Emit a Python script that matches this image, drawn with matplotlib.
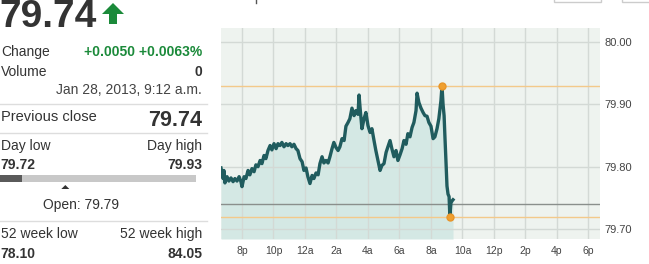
import numpy as np
import pandas as pd
import matplotlib
matplotlib.use("Agg")
import matplotlib.pyplot as plt
import matplotlib.dates as mdates
from matplotlib.patches import Polygon, Rectangle

plt.rcParams['font.family'] = ['Liberation Sans', 'DejaVu Sans']

# intraday quotes, Jan 27 evening -> Jan 28 morning
times = [
    "01-27 18:40", "01-27 18:44", "01-27 18:48", "01-27 18:51", "01-27 18:55", "01-27 19:03",
    "01-27 19:10", "01-27 19:18", "01-27 19:26", "01-27 19:33", "01-27 19:41", "01-27 19:49",
    "01-27 19:56", "01-27 20:00", "01-27 20:08", "01-27 20:15", "01-27 20:23", "01-27 20:30",
    "01-27 20:38", "01-27 20:46", "01-27 20:53", "01-27 21:01", "01-27 21:09", "01-27 21:16",
    "01-27 21:24", "01-27 21:31", "01-27 21:39", "01-27 21:47", "01-27 21:54", "01-27 22:02",
    "01-27 22:10", "01-27 22:17", "01-27 22:25", "01-27 22:32", "01-27 22:40", "01-27 22:48",
    "01-27 22:55", "01-27 23:03", "01-27 23:10", "01-27 23:18", "01-27 23:26", "01-27 23:33",
    "01-27 23:41", "01-27 23:49", "01-27 23:56", "01-28 00:04", "01-28 00:11", "01-28 00:19",
    "01-28 00:27", "01-28 00:34", "01-28 00:42", "01-28 00:50", "01-28 00:57", "01-28 01:05",
    "01-28 01:12", "01-28 01:20", "01-28 01:28", "01-28 01:35", "01-28 01:43", "01-28 01:50",
    "01-28 01:58", "01-28 02:06", "01-28 02:13", "01-28 02:21", "01-28 02:29", "01-28 02:36",
    "01-28 02:44", "01-28 02:51", "01-28 02:59", "01-28 03:07", "01-28 03:14", "01-28 03:22",
    "01-28 03:26", "01-28 03:30", "01-28 03:37", "01-28 03:45", "01-28 03:52", "01-28 04:00",
    "01-28 04:08", "01-28 04:15", "01-28 04:23", "01-28 04:30", "01-28 04:38", "01-28 04:46",
    "01-28 04:53", "01-28 05:01", "01-28 05:09", "01-28 05:16", "01-28 05:24", "01-28 05:31",
    "01-28 05:39", "01-28 05:47", "01-28 05:54", "01-28 06:02", "01-28 06:10", "01-28 06:17",
    "01-28 06:25", "01-28 06:32", "01-28 06:40", "01-28 06:48", "01-28 06:55", "01-28 07:03",
    "01-28 07:07", "01-28 07:14", "01-28 07:22", "01-28 07:30", "01-28 07:37", "01-28 07:45",
    "01-28 07:52", "01-28 08:00", "01-28 08:08", "01-28 08:15", "01-28 08:23", "01-28 08:30",
    "01-28 08:38", "01-28 08:42", "01-28 08:46", "01-28 08:50", "01-28 08:53", "01-28 08:57",
    "01-28 09:01", "01-28 09:05", "01-28 09:09", "01-28 09:12", "01-28 09:16", "01-28 09:20",
    "01-28 09:24",
]
prices = [
    79.798, 79.790, 79.781, 79.794, 79.774, 79.784,
    79.777, 79.782, 79.776, 79.781, 79.777, 79.784,
    79.776, 79.768, 79.784, 79.781, 79.794, 79.787,
    79.797, 79.792, 79.803, 79.800, 79.810, 79.805,
    79.818, 79.813, 79.826, 79.834, 79.827, 79.837,
    79.829, 79.837, 79.834, 79.839, 79.832, 79.837,
    79.834, 79.837, 79.832, 79.836, 79.829, 79.826,
    79.813, 79.808, 79.794, 79.798, 79.784, 79.773,
    79.786, 79.781, 79.790, 79.787, 79.805, 79.816,
    79.806, 79.810, 79.806, 79.816, 79.829, 79.839,
    79.831, 79.826, 79.832, 79.845, 79.842, 79.865,
    79.871, 79.877, 79.894, 79.882, 79.890, 79.884,
    79.915, 79.894, 79.861, 79.877, 79.887, 79.866,
    79.855, 79.861, 79.842, 79.826, 79.810, 79.794,
    79.802, 79.805, 79.823, 79.832, 79.842, 79.829,
    79.816, 79.826, 79.810, 79.819, 79.829, 79.842,
    79.836, 79.853, 79.848, 79.863, 79.871, 79.890,
    79.918, 79.903, 79.894, 79.887, 79.882, 79.881,
    79.871, 79.865, 79.845, 79.848, 79.861, 79.877,
    79.906, 79.930, 79.900, 79.882, 79.850, 79.810,
    79.769, 79.756, 79.752, 79.720, 79.742, 79.745,
    79.747,
]

last_price = 79.74
prev_close = 79.74
day_low = 79.72
day_high = 79.93
open_price = 79.79
wk52_low = 78.10
wk52_high = 84.05
y_ticks = [79.70, 79.80, 79.90, 80.00]

t = pd.to_datetime(["2013-" + s for s in times])
p = np.array(prices)

fig = plt.figure(figsize=(6.49, 2.64), dpi=100)
fig.patch.set_facecolor('white')

# ---- chart ----
ax = fig.add_axes([221 / 649, 25 / 264, 379 / 649, 211 / 264])
ax.set_facecolor('#eef3ef')
x0 = pd.Timestamp("2013-01-27 18:40")
x1 = pd.Timestamp("2013-01-28 18:44")
ax.set_xlim(x0, x1)
ax.set_ylim(79.684, 80.0226)

ax.fill_between(t, p, 79.684, color='#d4e8e4', lw=0, zorder=1)
ax.xaxis.set_major_locator(mdates.HourLocator(byhour=range(0, 24, 2)))


def hour_fmt(v, pos):
    d = mdates.num2date(v)
    h = d.hour % 12 or 12
    return f"{h}{'a' if d.hour < 12 else 'p'}"


ax.xaxis.set_major_formatter(plt.FuncFormatter(hour_fmt))
ax.set_yticks(y_ticks)
ax.yaxis.set_major_formatter(plt.FuncFormatter(lambda v, pos: f"{v:.2f}"))
ax.yaxis.tick_right()
ax.grid(True, color='#d3d9d5', lw=1, zorder=2)
ax.set_axisbelow(False)
ax.tick_params(length=0, labelsize=8, colors='#444444')
ax.tick_params(axis='x', labelsize=7.5, pad=5)
ax.tick_params(axis='y', pad=3)
for s in ax.spines.values():
    s.set_visible(False)

ax.axhline(day_high, color='#f3c98a', lw=1, zorder=3)
ax.axhline(day_low, color='#f3c98a', lw=1, zorder=3)
ax.axhline(prev_close, color='#8a8f8c', lw=1, zorder=3)
ax.plot(t, p, color='#205c5e', lw=2.4, zorder=4, solid_joinstyle='round')
i_hi = int(np.argmax(p))
i_lo = int(np.argmin(p))
ax.plot([t[i_hi], t[i_lo]], [p[i_hi], p[i_lo]], 'o', color='#f0a030',
        ms=5, mec='#e8952a', zorder=5)

# ---- left quote panel (pixel overlay) ----
ov = fig.add_axes([0, 0, 1, 1], zorder=-1)
ov.set_xlim(0, 649)
ov.set_ylim(264, 0)
ov.axis('off')

dark = '#333333'
green = '#1b8a3a'
ov.text(-1, 17, f"{last_price:.2f}", fontsize=28, fontweight='bold', color=dark, va='center', ha='left')
ov.add_patch(Polygon([[102, 14], [124, 14], [113, 3]], closed=True, color=green, lw=0))
ov.add_patch(Rectangle((109, 13), 8, 11, color=green, lw=0))

ov.text(1, 52, "Change", fontsize=10, color=dark, va='center')
ov.text(202, 52, "+0.0050 +0.0063%", fontsize=10, fontweight='bold', color=green, va='center', ha='right')
ov.text(1, 72, "Volume", fontsize=10, color=dark, va='center')
ov.text(202, 72, "0", fontsize=10, fontweight='bold', color=dark, va='center', ha='right')
ov.text(202, 90, "Jan 28, 2013, 9:12 a.m.", fontsize=10, color='#444444', va='center', ha='right')
ov.plot([0, 207], [104, 104], color='#dddddd', lw=1)

ov.text(1, 117, "Previous close", fontsize=10.5, color=dark, va='center')
ov.text(202, 120, f"{prev_close:.2f}", fontsize=15.5, fontweight='bold', color=dark, va='center', ha='right')
ov.plot([0, 207], [133, 133], color='#dddddd', lw=1)

ov.text(1, 146, "Day low", fontsize=10, color=dark, va='center')
ov.text(202, 146, "Day high", fontsize=10, color=dark, va='center', ha='right')
ov.text(0, 165, f"{day_low:.2f}", fontsize=10, fontweight='bold', color=dark, va='center')
ov.text(202, 165, f"{day_high:.2f}", fontsize=10, fontweight='bold', color=dark, va='center', ha='right')

# day range bar: current price position between low and high
bar_l, bar_r = 0, 196
frac = (last_price - day_low) / (day_high - day_low)
ov.add_patch(Rectangle((bar_l, 175), bar_r - bar_l, 7, color='#c8c8c8', lw=0))
ov.add_patch(Rectangle((bar_l, 175), frac * (bar_r - bar_l) + 3, 7, color='#5a5a5a', lw=0))
ox = bar_l + (open_price - day_low) / (day_high - day_low) * (bar_r - bar_l)
ov.add_patch(Polygon([[ox - 4, 189], [ox + 4, 189], [ox, 185]], closed=True, color='#333333', lw=0))
ov.text(43, 205, f"Open: {open_price:.2f}", fontsize=10, color=dark, va='center')
ov.plot([0, 207], [221, 221], color='#dddddd', lw=1)

ov.text(1, 234, "52 week low", fontsize=10, color=dark, va='center')
ov.text(202, 234, "52 week high", fontsize=10, color=dark, va='center', ha='right')
ov.text(0, 254, f"{wk52_low:.2f}", fontsize=10, fontweight='bold', color=dark, va='center')
ov.text(202, 254, f"{wk52_high:.2f}", fontsize=10, fontweight='bold', color=dark, va='center', ha='right')

# cropped page controls at the top edge
ov.plot([256, 256], [0, 3], color='#555555', lw=1)
ov.add_patch(Rectangle((554, -5), 47, 7, fill=False, ec='#cccccc', lw=1))
ov.add_patch(Rectangle((622, -5), 30, 7, fill=False, ec='#cccccc', lw=1))

fig.savefig("out.png", dpi=100)
